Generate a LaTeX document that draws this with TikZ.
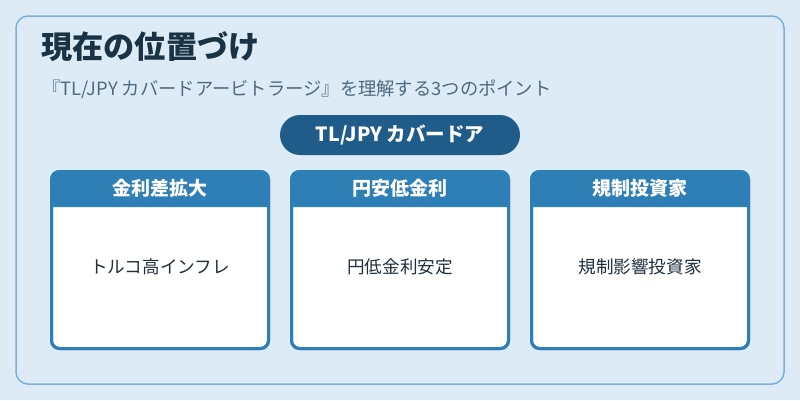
\documentclass[tikz,border=0pt]{standalone}
\usepackage{fontspec}
\setmainfont{Noto Sans CJK JP}
\definecolor{bgblue}{HTML}{DCEBF6}
\definecolor{frameblue}{HTML}{7FB0D3}
\definecolor{titleink}{HTML}{1A3344}
\definecolor{subink}{HTML}{4F6A80}
\definecolor{pillblue}{HTML}{1F5C8A}
\definecolor{cardblue}{HTML}{2E7FB5}
\definecolor{bodyink}{HTML}{1E2F3D}
\tikzset{
  card/.style={draw=cardblue, line width=3pt, fill=white, rounded corners=8pt,
    minimum width=217pt, minimum height=177pt, inner sep=0pt, outer sep=0pt},
  cardhead/.style={text=white, font=\fontsize{19}{21}\selectfont\bfseries},
  cardbody/.style={text=bodyink, font=\fontsize{17.6}{19}\selectfont}
}
\begin{document}
\begin{tikzpicture}[x=1pt, y=-1pt]
        \useasboundingbox[fill=bgblue] (0,0) rectangle (800,400);

        % outer frame
        \draw[draw=frameblue, line width=1.5pt, fill=bgblue, rounded corners=12pt] (16,16) rectangle (784,384);

        \node[anchor=base west, text=titleink, font=\fontsize{31.2}{33}\selectfont\bfseries, inner sep=0pt] (title) at (41,58) {現在の位置づけ};
        \node[anchor=base west, text=subink, font=\fontsize{18.3}{20}\selectfont, inner sep=0pt] (subtitle) at (42,95) {『TL/JPY カバードアービトラージ』を理解する3つのポイント};

        \node[fill=pillblue, rounded corners=20pt, minimum width=240pt, minimum height=40pt, text=white,
              font=\fontsize{19.5}{21}\selectfont\bfseries] (pill) at (400,135) {TL/JPY カバードア};

        % cards
        \node[card] (rate) at (160,260) {};
        \fill[cardblue] (rate.west |- 0,207) [rounded corners=8pt] -- (rate.north west) -- (rate.north east) [sharp corners] -- (rate.east |- 0,207) -- cycle;
        \draw[draw=cardblue, line width=3pt, rounded corners=8pt] (rate.north west) rectangle (rate.south east);
        \node[cardhead] (ratehead) at (160,188) {金利差拡大};
        \node[cardbody] (ratebody) at (160,267) {トルコ高インフレ};

        \node[card] (yen) at (400,260) {};
        \fill[cardblue] (yen.west |- 0,207) [rounded corners=8pt] -- (yen.north west) -- (yen.north east) [sharp corners] -- (yen.east |- 0,207) -- cycle;
        \draw[draw=cardblue, line width=3pt, rounded corners=8pt] (yen.north west) rectangle (yen.south east);
        \node[cardhead] (yenhead) at (400,188) {円安低金利};
        \node[cardbody] (yenbody) at (400,267) {円低金利安定};

        \node[card] (reg) at (640,260) {};
        \fill[cardblue] (reg.west |- 0,207) [rounded corners=8pt] -- (reg.north west) -- (reg.north east) [sharp corners] -- (reg.east |- 0,207) -- cycle;
        \draw[draw=cardblue, line width=3pt, rounded corners=8pt] (reg.north west) rectangle (reg.south east);
        \node[cardhead] (reghead) at (640,188) {規制投資家};
        \node[cardbody] (regbody) at (640,267) {規制影響投資家};

    \end{tikzpicture}
\end{document}
